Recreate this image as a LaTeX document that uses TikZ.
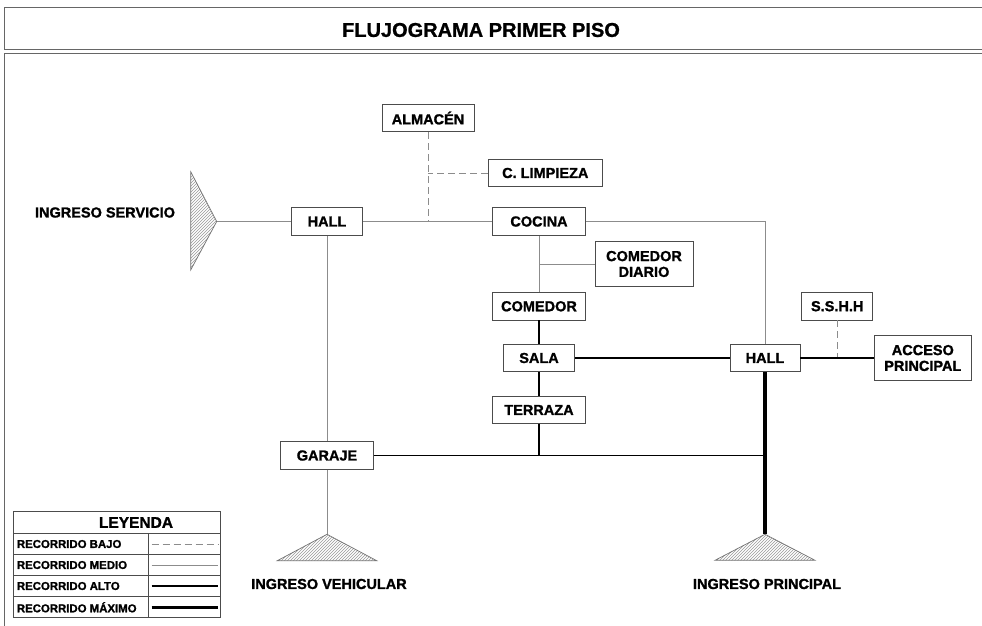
\documentclass[tikz,border=0pt]{standalone}
\usepackage{fontspec}
\setmainfont{Liberation Sans}[BoldFeatures={FakeBold=1.3}]
\newfontfamily\titlefont{Liberation Sans}[BoldFeatures={FakeBold=1.0}]
\usetikzlibrary{patterns}
\newcommand{\lblfont}{\bfseries\fontsize{14.5}{15.8}\selectfont}
\newcommand{\legfont}{\bfseries\fontsize{11.4}{12.5}\selectfont}
\begin{document}
\begin{tikzpicture}[x=1pt,y=-1pt,
  roombox/.style={draw=black!70, line width=0.8pt, fill=white, font=\lblfont,
    inner sep=0pt, align=center},
  medio/.style={draw=black!45, line width=0.9pt},
  alto/.style={draw=black, line width=1.4pt},
  maximo/.style={draw=black, line width=3.6pt},
  bajo/.style={draw=black!45, line width=0.9pt, dash pattern=on 7pt off 4pt},
  entry/.style={draw=black!55, line width=0.7pt, pattern=north east lines, pattern color=black!40},
  plainlbl/.style={font=\lblfont, inner sep=0pt}]
\useasboundingbox (0,0) rectangle (982,626);
\fill[white] (0,0) rectangle (982,626);

% frame and title band
\draw[black!60, line width=0.9pt] (990,7) -- (4,7) -- (4,49) -- (990,49);
\draw[black!60, line width=0.9pt] (990,53) -- (4,53) -- (4,640);
\node[font=\titlefont\bfseries\fontsize{20}{22}\selectfont, inner sep=0pt] (title) at (481,30) {FLUJOGRAMA PRIMER PISO};

% entrance triangles
\coordinate (servapex) at (216.7,221.5);
\draw[entry] (190.7,171.7) -- (190.7,270) -- (servapex) -- cycle;
\coordinate (vehapex) at (327,534.3);
\draw[entry] (vehapex) -- (277.3,560.7) -- (376.7,560.7) -- cycle;
\coordinate (prinapex) at (765,534.3);
\draw[entry] (prinapex) -- (715,560.3) -- (815,560.3) -- cycle;

\node[plainlbl] (ingserv) at (105,212.5) {INGRESO SERVICIO};
\node[plainlbl] (ingveh) at (329,584) {INGRESO VEHICULAR};
\node[plainlbl] (ingprin) at (767,584) {INGRESO PRINCIPAL};

% rooms
\node[roombox, minimum width=71pt, minimum height=28.5pt] (hallA) at (327,221.5) {HALL};
\node[roombox, minimum width=92pt, minimum height=27.7pt] (almacen) at (428,118) {ALMACÉN};
\node[roombox, minimum width=114.7pt, minimum height=27.7pt] (limpieza) at (545.3,173) {C. LIMPIEZA};
\node[roombox, minimum width=92.3pt, minimum height=28.5pt] (cocina) at (539,221.5) {COCINA};
\node[roombox, minimum width=98pt, minimum height=44.3pt] (diario) at (644,264) {COMEDOR\\DIARIO};
\node[roombox, minimum width=92.6pt, minimum height=27.3pt] (comedor) at (539,306.3) {COMEDOR};
\node[roombox, minimum width=71pt, minimum height=27.4pt] (sala) at (539,358) {SALA};
\node[roombox, minimum width=92.6pt, minimum height=26.6pt] (terraza) at (539,410) {TERRAZA};
\node[roombox, minimum width=70pt, minimum height=27.4pt] (hallB) at (765,358) {HALL};
\node[roombox, minimum width=71pt, minimum height=27.7pt] (sshh) at (837.2,306.2) {S.S.H.H};
\node[roombox, minimum width=97.7pt, minimum height=45pt] (acceso) at (922.8,358) {ACCESO\\PRINCIPAL};
\node[roombox, minimum width=92.3pt, minimum height=27.6pt] (garaje) at (327,455.5) {GARAJE};

% junction points
\coordinate (jAlm) at (428,221.5);
\coordinate (jLim) at (428,173);
\coordinate (jCoc) at (765,221.5);
\coordinate (jDia) at (539,264);
\coordinate (jTer) at (539,455.5);
\coordinate (jGar) at (765,455.5);
\coordinate (jSs) at (837.2,358);

% medium routes
\draw[medio] (servapex) -- (hallA.west);
\draw[medio] (hallA.east) -- (cocina.west);
\draw[medio] (cocina.east) -- (jCoc) -- (hallB.north);
\draw[medio] (cocina.south) -- (comedor.north);
\draw[medio] (diario.west) -- (jDia);
\draw[medio] (hallA.south) -- (garaje.north);
\draw[medio] (garaje.south) -- (vehapex);

% low routes
\draw[bajo] (almacen.south) -- (jAlm);
\draw[bajo] (limpieza.west) -- (jLim);
\draw[bajo] (sshh.south) -- (jSs);

% high routes
\draw[alto] (comedor.south) -- (sala.north);
\draw[alto] (sala.south) -- (terraza.north);
\draw[alto] (terraza.south) -- (jTer);
\draw[alto] (sala.east) -- (hallB.west);
\draw[alto] (hallB.east) -- (acceso.west);
\draw[alto] (garaje.east) -- (jGar);

% maximum route
\draw[maximo] (hallB.south) -- (prinapex);

% legend
\draw[black!70, line width=0.8pt] (13.3,511.7) rectangle (220,617.3);
\draw[black!70, line width=0.8pt] (13.3,533.3) -- (220,533.3)
  (13.3,554.3) -- (220,554.3) (13.3,575) -- (220,575) (13.3,596.7) -- (220,596.7)
  (148.3,533.3) -- (148.3,617.3);
\node[font=\bfseries\fontsize{15.5}{17}\selectfont, inner sep=0pt] (leyenda) at (136,522.5) {LEYENDA};
\node[font=\legfont, inner sep=0pt, anchor=west] (lbajo) at (16.7,544) {RECORRIDO BAJO};
\node[font=\legfont, inner sep=0pt, anchor=west] (lmedio) at (16.7,565) {RECORRIDO MEDIO};
\node[font=\legfont, inner sep=0pt, anchor=west] (lalto) at (16.7,586) {RECORRIDO ALTO};
\node[font=\legfont, inner sep=0pt, anchor=west] (lmax) at (16.7,607.3) {RECORRIDO MÁXIMO};
\coordinate (sb1) at (151.7,544); \coordinate (sb2) at (218.3,544);
\coordinate (sm1) at (151.7,565); \coordinate (sm2) at (218.3,565);
\coordinate (sa1) at (151.7,586); \coordinate (sa2) at (218.3,586);
\coordinate (sx1) at (151.7,607.3); \coordinate (sx2) at (218.3,607.3);
\draw[bajo] (sb1) -- (sb2);
\draw[medio] (sm1) -- (sm2);
\draw[alto] (sa1) -- (sa2);
\draw[maximo] (sx1) -- (sx2);
\end{tikzpicture}
\end{document}
